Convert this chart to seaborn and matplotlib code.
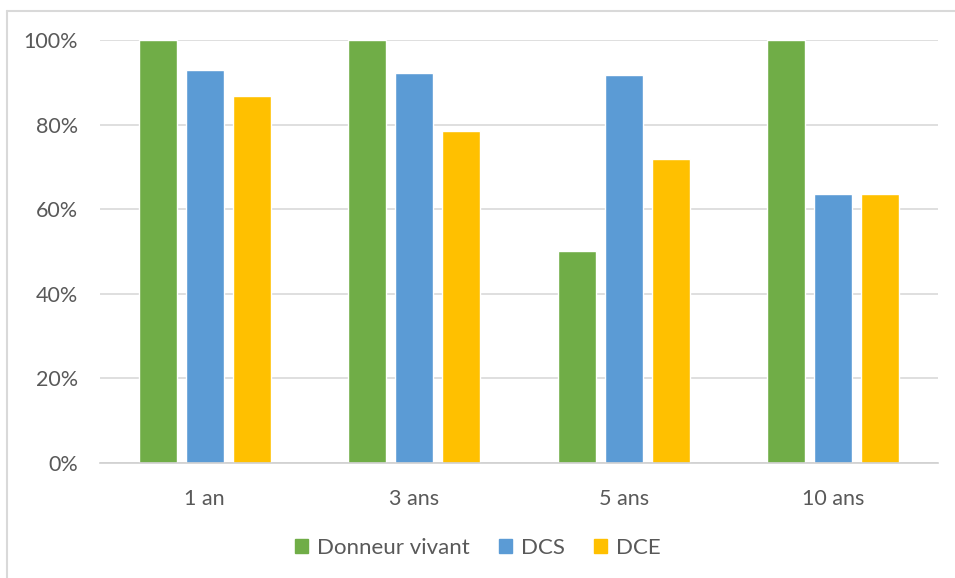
import matplotlib.pyplot as plt
import pandas as pd
import seaborn as sns
from matplotlib.lines import Line2D
from matplotlib.ticker import PercentFormatter

# Data
periods = ['1 an', '3 ans', '5 ans', '10 ans']
donneur_vivant = [100, 100, 50, 100]
dcs = [92.8, 92.2, 91.7, 63.6]
dce = [86.8, 78.4, 71.9, 63.6]

series = ['Donneur vivant', 'DCS', 'DCE']
colors = ['#70AD47', '#5B9BD5', '#FFC000']

df = pd.DataFrame({
    'period': periods * 3,
    'serie': [s for s in series for _ in periods],
    'value': donneur_vivant + dcs + dce,
})

sns.set_style('white')
plt.rcParams['font.family'] = ['Lato', 'DejaVu Sans']

fig = plt.figure(figsize=(9.55, 5.78), dpi=100)
ax = fig.add_axes([100 / 955, 115 / 578, 838 / 955, 423 / 578])

f = sns.barplot(data=df, x='period', y='value', hue='serie', order=periods,
                hue_order=series, palette=colors, width=0.674, gap=0.2,
                saturation=1, ax=ax, legend=False)

f.set_ylim(0, 100)
f.set_xlim(-0.5, 3.5)
f.set_yticks([0, 20, 40, 60, 80, 100])
f.yaxis.set_major_formatter(PercentFormatter(decimals=0))
f.grid(axis='y', color='#d9d9d9', linewidth=1.2)
f.set_axisbelow(True)
for s in ['top', 'right', 'left']:
    f.spines[s].set_visible(False)
f.spines['bottom'].set_color('#d0d0d0')
f.spines['bottom'].set_linewidth(1.2)
f.tick_params(axis='both', length=0, labelsize=15.5, colors='#595959')
f.tick_params(axis='y', pad=16)
f.tick_params(axis='x', pad=19)
f.set_xlabel('')
f.set_ylabel('')

handles = [plt.Rectangle((0, 0), 1, 1, color=c) for c in colors]
fig.legend(handles, series, loc='center', bbox_to_anchor=(0.5, 1 - 548 / 578),
           ncol=3, frameon=False, fontsize=16, labelcolor='#595959',
           handlelength=0.6, handleheight=0.6, handletextpad=0.4,
           columnspacing=1.3)

# chart border (left and top only visible in the crop)
fig.add_artist(Line2D([7 / 955, 7 / 955], [0, 1 - 11 / 578], color='#d9d9d9', lw=1.5))
fig.add_artist(Line2D([7 / 955, 1], [1 - 11 / 578, 1 - 11 / 578], color='#d9d9d9', lw=1.5))

fig.savefig('out.png', dpi=100)
